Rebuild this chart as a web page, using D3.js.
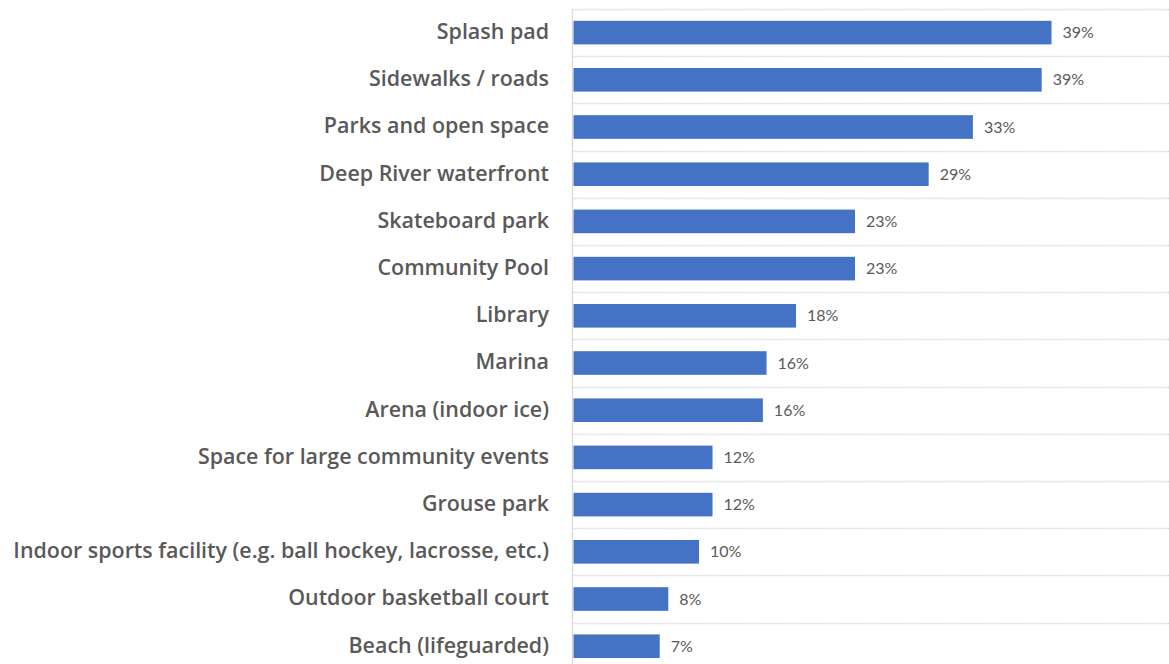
<!DOCTYPE html>
<html><head><meta charset="utf-8">
<script src="https://cdn.jsdelivr.net/npm/d3@7"></script>
<style>body{margin:0;background:#fff;} svg{display:block;}</style>
</head><body>
<svg id="c" width="1169" height="664"></svg>
<script>
const categories = ["Splash pad","Sidewalks / roads","Parks and open space","Deep River waterfront","Skateboard park","Community Pool","Library","Marina","Arena (indoor ice)","Space for large community events","Grouse park","Indoor sports facility (e.g. ball hockey, lacrosse, etc.)","Outdoor basketball court","Beach (lifeguarded)"];
const values = [39.0, 38.2, 32.6, 29.0, 23.0, 23.0, 18.2, 15.8, 15.5, 11.4, 11.4, 10.3, 7.8, 7.1];
const valueLabels = ["39%","39%","33%","29%","23%","23%","18%","16%","16%","12%","12%","10%","8%","7%"];

const svg = d3.select("#c");
const x0 = 572.5, topY = 9, step = 47.2;
const x = d3.scaleLinear().domain([0, 39]).range([x0, 1051.5]);
const y = d3.scaleBand().domain(categories).range([topY, topY + step*categories.length]).paddingInner(0.5).paddingOuter(0.25);

// gridlines
const bounds = d3.range(categories.length + 1).map(i => topY + i*step);
svg.append("g").selectAll("line").data(bounds).join("line")
  .attr("x1", x0).attr("x2", 1169).attr("y1", d => Math.round(d)+0.5).attr("y2", d => Math.round(d)+0.5)
  .attr("stroke", "#d9d9d9").attr("stroke-width", 1.3).attr("stroke-dasharray", "1.5,1");

// vertical axis
svg.append("line").attr("x1", x0).attr("x2", x0).attr("y1", topY).attr("y2", 664)
  .attr("stroke", "#d9d9d9").attr("stroke-width", 1.3);

// bars
svg.append("g").selectAll("rect").data(categories).join("rect")
  .attr("x", x0 + 1).attr("y", d => y(d))
  .attr("width", (d,i) => x(values[i]) - x0 - 1).attr("height", y.bandwidth())
  .attr("fill", "#4472c4");

// value labels
svg.append("g").selectAll("text").data(categories).join("text")
  .attr("x", (d,i) => x(values[i]) + 11).attr("y", d => y(d) + y.bandwidth()/2)
  .attr("dy", "0.35em").attr("font-family", "Lato, 'Open Sans', sans-serif").attr("font-size", 16)
  .attr("fill", "#595959").text((d,i) => valueLabels[i]);

// category labels
const labels = svg.append("g").selectAll("text").data(categories).join("text")
  .attr("x", 549).attr("y", d => y(d) + y.bandwidth()/2)
  .attr("dy", "0.3em").attr("text-anchor", "end")
  .attr("font-family", "'Open Sans', sans-serif").attr("font-weight", 600).attr("font-size", 20)
  .attr("fill", "#595959").text(d => d);
// fit longest label to the reference span
const maxW = d3.max(labels.nodes(), n => n.getComputedTextLength());
labels.attr("font-size", 20 * 536 / maxW);
</script>
</body></html>
